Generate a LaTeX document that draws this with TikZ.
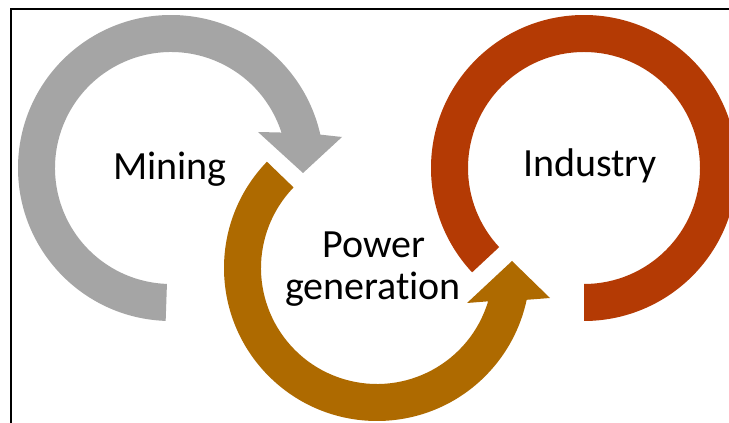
\documentclass[tikz,border=0pt]{standalone}
\usepackage{fontspec}
\setmainfont{Carlito}[Ligatures=NoCommon]
\usetikzlibrary{calc}

\definecolor{mininggray}{RGB}{165,165,165}
\definecolor{powerbrown}{RGB}{174,106,0}
\definecolor{industryred}{RGB}{180,58,4}

\begin{document}
\begin{tikzpicture}[x=1pt,y=1pt,ringtext/.style={font=\fontsize{40}{42}\selectfont,inner sep=0pt,anchor=base}]
\useasboundingbox (0,0) rectangle (729,423);
\fill[white] (0,0) rectangle (729,423);
\draw[line width=2.6pt] (11,0) -- (11,414) -- (729,414);
% ring centres
\coordinate (mc) at (171,255);
\coordinate (pc) at (377,155);
\coordinate (ic) at (584,255);
% mining arrow
\fill[mininggray] ($(mc)+(268:153pt)$) arc[start angle=268,end angle=12.6,radius=153pt]
  -- (342,286) -- (303,250) -- (258,291)
  -- ($(mc)+(17.8:116pt)$) arc[start angle=17.8,end angle=268,radius=116pt] -- cycle;
% power generation arrow
\fill[powerbrown] ($(pc)+(136:153pt)$) arc[start angle=136,end angle=348,radius=153pt]
  -- (550,125) -- (512,162) -- (467,120)
  -- ($(pc)+(343.3:116pt)$) arc[start angle=343.3,end angle=136,radius=116pt] -- cycle;
% industry ring
\fill[industryred] ($(ic)+(223:153pt)$) arc[start angle=223,end angle=-90,radius=153pt]
  -- ($(ic)+(-90:116pt)$) arc[start angle=-90,end angle=223,radius=116pt] -- cycle;
% texts
\node[ringtext] (mining) at (170,243) {Mining};
\node[ringtext] (industry) at (590,246) {Industry};
\node[ringtext] (power) at (374,165) {Power};
\node[ringtext] (generation) at (373,123) {generation};
\end{tikzpicture}
\end{document}
